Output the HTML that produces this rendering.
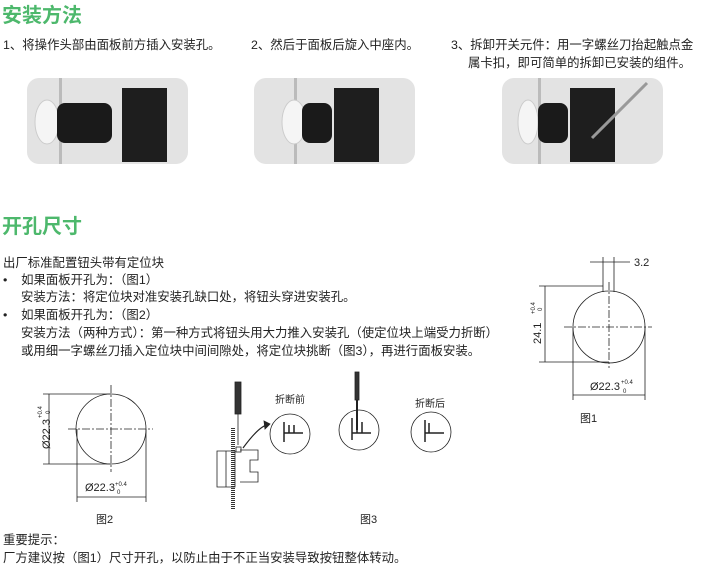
<!DOCTYPE html><html><head><meta charset="utf-8"><style>
body{margin:0;width:704px;height:567px;background:#fff;position:relative;overflow:hidden;font-family:"Liberation Sans","Noto Sans CJK SC",sans-serif;color:#222}
.t{position:absolute;white-space:nowrap;font-size:12.4px;line-height:14px}
.h{position:absolute;font-size:20px;font-weight:bold;color:#4db86c;font-family:"Noto Sans CJK SC",sans-serif;line-height:24px}
.p{position:absolute;top:78px;width:161px;height:86px;background:#e3e3e3;border-radius:12px;overflow:hidden}
</style></head><body>
<div class="h" style="left:2px;top:2px">安装方法</div>
<div class="t" style="left:3px;top:38px">1、将操作头部由面板前方插入安装孔。</div>
<div class="t" style="left:251px;top:38px">2、然后于面板后旋入中座内。</div>
<div class="t" style="left:451px;top:38px">3、拆卸开关元件：用一字螺丝刀抬起触点金</div>
<div class="t" style="left:468px;top:56px">属卡扣，即可简单的拆卸已安装的组件。</div>
<div class="p" style="left:27px"><svg width="161" height="86"><rect x="32" y="0" width="3" height="86" fill="#bbb"/><ellipse cx="20" cy="44" rx="12" ry="22" fill="#f5f5f5" stroke="#ccc"/><rect x="30" y="25" width="55" height="40" rx="8" fill="#1a1a1a"/><rect x="95" y="10" width="45" height="74" fill="#1e1e1e"/></svg></div>
<div class="p" style="left:254px"><svg width="161" height="86"><rect x="40" y="0" width="3" height="86" fill="#bbb"/><ellipse cx="40" cy="44" rx="12" ry="22" fill="#f5f5f5" stroke="#ccc"/><rect x="48" y="25" width="30" height="40" rx="8" fill="#1a1a1a"/><rect x="80" y="10" width="45" height="74" fill="#1e1e1e"/></svg></div>
<div class="p" style="left:502px"><svg width="161" height="86"><rect x="36" y="0" width="3" height="86" fill="#bbb"/><ellipse cx="26" cy="44" rx="10" ry="22" fill="#f5f5f5" stroke="#ccc"/><rect x="36" y="25" width="30" height="40" rx="8" fill="#1a1a1a"/><rect x="68" y="10" width="45" height="74" fill="#1e1e1e"/><line x1="90" y1="60" x2="145" y2="5" stroke="#999" stroke-width="3"/></svg></div>
<div class="h" style="left:2px;top:213px">开孔尺寸</div>
<div class="t" style="left:3px;top:256px">出厂标准配置钮头带有定位块</div>
<div class="t" style="left:3px;top:273px">•&nbsp;&nbsp;&nbsp;&nbsp;如果面板开孔为：（图1）</div>
<div class="t" style="left:21px;top:290px">安装方法：将定位块对准安装孔缺口处，将钮头穿进安装孔。</div>
<div class="t" style="left:3px;top:308px">•&nbsp;&nbsp;&nbsp;&nbsp;如果面板开孔为：（图2）</div>
<div class="t" style="left:21px;top:326px">安装方法（两种方式）：第一种方式将钮头用大力推入安装孔（使定位块上端受力折断）</div>
<div class="t" style="left:21px;top:344px">或用细一字螺丝刀插入定位块中间间隙处，将定位块挑断（图3），再进行面板安装。</div>
<div class="t" style="left:3px;top:533px">重要提示：</div>
<div class="t" style="left:3px;top:551px">厂方建议按（图1）尺寸开孔，以防止由于不正当安装导致按钮整体转动。</div>
<svg width="704" height="567" style="position:absolute;left:0;top:0" font-family="Liberation Sans,Noto Sans CJK SC,sans-serif" fill="none" stroke="#222" stroke-width="0.8">
<!-- fig1 -->
<circle cx="609" cy="327" r="36"/>
<line x1="609" y1="282" x2="609" y2="368" stroke-dasharray="8,2,2,2"/>
<line x1="564" y1="327" x2="652" y2="327" stroke-dasharray="8,2,2,2"/>
<path d="M603 257V292M614 257V292M539 286H603M539 362H609M545 286V362M573 327V400M645 327V400M573 395H645M590 262H630"/>
<text x="634" y="266" fill="#222" stroke="none" font-size="11">3.2</text>
<text transform="translate(541,344) rotate(-90)" fill="#222" stroke="none" font-size="11">24.1</text>
<text transform="translate(535,314) rotate(-90)" fill="#222" stroke="none" font-size="6">+0.4</text>
<text transform="translate(542,311) rotate(-90)" fill="#222" stroke="none" font-size="6">0</text>
<text x="590" y="390" fill="#222" stroke="none" font-size="11">Ø22.3</text>
<text x="621" y="384" fill="#222" stroke="none" font-size="6">+0.4</text>
<text x="623" y="393" fill="#222" stroke="none" font-size="6">0</text>
<text x="580" y="422" fill="#222" stroke="none" font-size="11">图1</text>
<!-- fig2 -->
<circle cx="111" cy="429" r="35"/>
<line x1="111" y1="385" x2="111" y2="472" stroke-dasharray="8,2,2,2"/>
<line x1="68" y1="429" x2="153" y2="429" stroke-dasharray="8,2,2,2"/>
<path d="M43 394H111M43 464H111M49 394V464M77 429V502M146 429V502M77 497H146"/>
<text transform="translate(50,449) rotate(-90)" fill="#222" stroke="none" font-size="11">Ø22.3</text>
<text transform="translate(42,418) rotate(-90)" fill="#222" stroke="none" font-size="6">+0.4</text>
<text transform="translate(50,414) rotate(-90)" fill="#222" stroke="none" font-size="6">0</text>
<text x="85" y="491" fill="#222" stroke="none" font-size="11">Ø22.3</text>
<text x="115" y="486" fill="#222" stroke="none" font-size="6">+0.4</text>
<text x="117" y="494" fill="#222" stroke="none" font-size="6">0</text>
<text x="96" y="523" fill="#222" stroke="none" font-size="11">图2</text>
<!-- fig3 -->
<rect x="235" y="382" width="6" height="32" fill="#333"/>
<line x1="238" y1="414" x2="238" y2="445"/>
<line x1="233" y1="428" x2="233" y2="510" stroke="#333" stroke-width="4" stroke-dasharray="1,1"/>
<path d="M217 451H235V487H217Z M226 451V487 M240 450H258V460H250V472H258V482H240" />
<rect x="236" y="447" width="5" height="5"/>
<path d="M243 448Q260 425 268 425" stroke-width="1.2"/>
<path d="M264 421L270 424L265 429Z" fill="#222"/>
<circle cx="290" cy="434" r="20"/><path d="M284 422V442M284 433H303M289 425V433M294 425V433" stroke-width="1.5"/>
<circle cx="359" cy="430" r="20"/><path d="M352 418V440M352 433H371M357 422V433M362 422V433" stroke-width="1.5"/>
<rect x="355" y="372" width="4" height="28" fill="#333"/><line x1="357" y1="400" x2="357" y2="430" stroke-width="2"/>
<circle cx="431" cy="432" r="20"/><path d="M425 420V442M425 433H444M429 423V433" stroke-width="1.5"/>
<text x="275" y="403" fill="#222" stroke="none" font-size="10">折断前</text>
<text x="415" y="407" fill="#222" stroke="none" font-size="10">折断后</text>
<text x="360" y="523" fill="#222" stroke="none" font-size="11">图3</text>
</svg>
</body></html>
